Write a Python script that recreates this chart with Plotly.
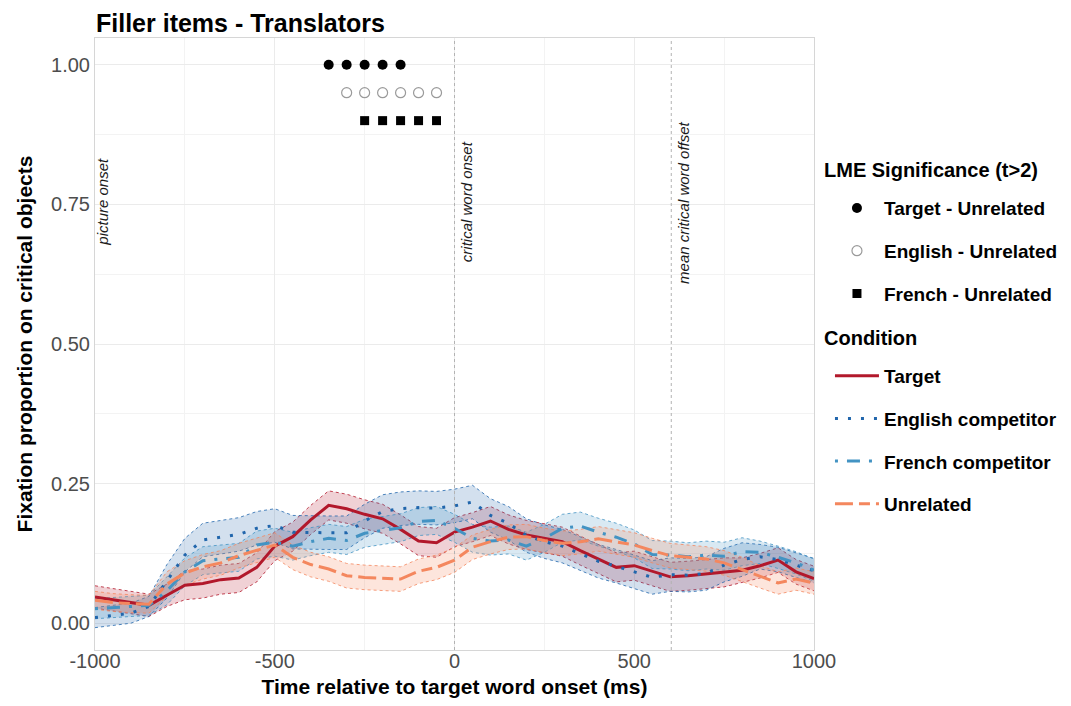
import plotly.graph_objects as go

# ---------------- data ----------------
time_ms = [-1000, -950, -900, -850, -800, -750, -700, -650, -600, -550, -500,
           -450, -400, -350, -300, -250, -200, -150, -100, -50, 0,
           50, 100, 150, 200, 250, 300, 350, 400, 450, 500,
           550, 600, 650, 700, 750, 800, 850, 900, 950, 1000]

target = [0.047, 0.042, 0.036, 0.032, 0.050, 0.068, 0.071, 0.078, 0.081, 0.100, 0.138,
          0.155, 0.185, 0.211, 0.205, 0.195, 0.187, 0.168, 0.147, 0.144, 0.163,
          0.172, 0.183, 0.168, 0.158, 0.152, 0.146, 0.130, 0.115, 0.100, 0.103,
          0.093, 0.083, 0.085, 0.088, 0.091, 0.095, 0.103, 0.113, 0.092, 0.080]

english = [0.010, 0.014, 0.018, 0.030, 0.075, 0.122, 0.149, 0.154, 0.159, 0.170, 0.175,
           0.163, 0.162, 0.162, 0.162, 0.183, 0.200, 0.205, 0.207, 0.206, 0.210,
           0.217, 0.193, 0.179, 0.157, 0.146, 0.138, 0.125, 0.111, 0.102, 0.092,
           0.082, 0.087, 0.086, 0.089, 0.104, 0.114, 0.119, 0.114, 0.104, 0.094]

french = [0.026, 0.028, 0.030, 0.032, 0.058, 0.092, 0.112, 0.115, 0.118, 0.140, 0.145,
          0.138, 0.146, 0.152, 0.148, 0.161, 0.166, 0.171, 0.182, 0.184, 0.170,
          0.152, 0.147, 0.149, 0.138, 0.152, 0.170, 0.174, 0.163, 0.154, 0.142,
          0.123, 0.122, 0.119, 0.122, 0.120, 0.128, 0.127, 0.118, 0.108, 0.095]

unrelated = [0.041, 0.037, 0.035, 0.034, 0.070, 0.090, 0.101, 0.108, 0.121, 0.131, 0.140,
             0.118, 0.105, 0.097, 0.085, 0.082, 0.080, 0.079, 0.093, 0.100, 0.113,
             0.136, 0.146, 0.154, 0.155, 0.148, 0.143, 0.146, 0.151, 0.145, 0.140,
             0.130, 0.121, 0.118, 0.115, 0.108, 0.096, 0.083, 0.072, 0.079, 0.072]

se_target = [0.020] * 5 + [0.026] * 31 + [0.022] * 5
se_english = [0.018] * 4 + [0.030] * 33 + [0.022] * 4
se_french = [0.018] * 4 + [0.025] * 33 + [0.020] * 4
se_unrelated = [0.016] * 4 + [0.022] * 33 + [0.020] * 4

sig_target_times = [-350, -300, -250, -200, -150]
sig_english_times = [-300, -250, -200, -150, -100, -50]
sig_french_times = [-250, -200, -150, -100, -50]
sig_levels = [1.00, 0.95, 0.90]

conditions = ["Target", "English competitor", "French competitor", "Unrelated"]
series = [target, english, french, unrelated]
ses = [se_target, se_english, se_french, se_unrelated]

events = [(-1000, "picture onset"), (0, "critical word onset"), (603, "mean critical word offset")]

x_ticks = [-1000, -500, 0, 500, 1000]
x_ticklabels = ["-1000", "-500", "0", "500", "1000"]
y_ticks = [0, 0.25, 0.5, 0.75, 1.0]

# ---------------- styles ----------------
colors = ["#B2182B", "#2166AC", "#4393C3", "#F4875E"]
fills = ["rgba(178,24,43,0.20)", "rgba(33,102,172,0.20)",
         "rgba(67,147,195,0.20)", "rgba(244,135,94,0.22)"]
dashes = ["solid", "3px,10px", "3px,9px,13px,9px", "18px,6px,11px,6px"]
event_shift = [-3, 1, 1]

# page adds an 8px body margin; keep the whole figure inside the 1071x706 window
W, H = 1055, 690

fig = go.Figure()

# ribbons
for name, y, se, c, f in zip(conditions, series, ses, colors, fills):
    upper = [a + b for a, b in zip(y, se)]
    lower = [a - b for a, b in zip(y, se)]
    fig.add_trace(go.Scatter(x=time_ms, y=upper, mode="lines",
                             line=dict(color=c, width=0.8, dash="dot"),
                             showlegend=False, hoverinfo="skip"))
    fig.add_trace(go.Scatter(x=time_ms, y=lower, mode="lines",
                             line=dict(color=c, width=0.8, dash="dot"),
                             fill="tonexty", fillcolor=f,
                             showlegend=False, hoverinfo="skip"))

# lines
for i, (name, y, c, d) in enumerate(zip(conditions, series, colors, dashes)):
    fig.add_trace(go.Scatter(x=time_ms, y=y, mode="lines", name=name,
                             line=dict(color=c, width=3, dash=d),
                             legend="legend2", legendgroup="c%d" % i))

# significance markers
sig_sets = [
    ("Target - Unrelated", sig_target_times, sig_levels[0],
     dict(symbol="circle", size=10, color="black")),
    ("English - Unrelated", sig_english_times, sig_levels[1],
     dict(symbol="circle-open", size=10, color="#9a9a9a", line=dict(width=1.2))),
    ("French - Unrelated", sig_french_times, sig_levels[2],
     dict(symbol="square", size=9, color="black")),
]
for i, (name, xs, lvl, mk) in enumerate(sig_sets):
    fig.add_trace(go.Scatter(x=xs, y=[lvl] * len(xs), mode="markers", name=name,
                             marker=mk, legend="legend", legendgroup="s%d" % i))

# event lines and labels
for (t, label), sh in zip(events, event_shift):
    if t > -1000:
        fig.add_shape(type="line", x0=t, x1=t, y0=0, y1=1, xref="x", yref="paper",
                      line=dict(color="#b3b3b3", width=1, dash="dot"))
    fig.add_annotation(x=t, y=0.754, xref="x", yref="y", text=label, showarrow=False,
                       textangle=-90, xanchor="left", yanchor="middle", xshift=sh,
                       font=dict(size=15, color="#1a1a1a", style="italic"))

# legend titles
fig.add_annotation(x=1.011, y=0.784, xref="paper", yref="paper", xanchor="left",
                   yanchor="middle", showarrow=False, text="LME Significance (t>2)",
                   font=dict(size=20, weight="bold", color="black"))
fig.add_annotation(x=1.011, y=0.510, xref="paper", yref="paper", xanchor="left",
                   yanchor="middle", showarrow=False, text="Condition",
                   font=dict(size=20, weight="bold", color="black"))

font_family = "Liberation Sans, Arial, Helvetica, sans-serif"

fig.update_layout(
    width=W, height=H,
    margin=dict(l=87, r=249, t=30, b=48, autoexpand=False),
    paper_bgcolor="white", plot_bgcolor="white",
    font=dict(family=font_family, color="black"),
    title=dict(text="Filler items - Translators", x=88 / W, xanchor="left",
               xref="container", y=1 - 15 / H, yref="container", yanchor="middle",
               font=dict(size=25, weight="bold", color="black")),
    legend=dict(x=1.0222, y=0.753, xanchor="left", yanchor="top",
                font=dict(size=19, weight="bold", color="black"), itemwidth=44,
                traceorder="grouped", tracegroupgap=15, bgcolor="rgba(0,0,0,0)"),
    legend2=dict(x=1.0222, y=0.479, xanchor="left", yanchor="top",
                 font=dict(size=19, weight="bold", color="black"), itemwidth=44,
                 traceorder="grouped", tracegroupgap=15, bgcolor="rgba(0,0,0,0)"),
)

fig.update_xaxes(range=[-1000, 1000], tickvals=x_ticks, ticktext=x_ticklabels,
                 showgrid=True, gridcolor="#ebebeb", gridwidth=1,
                 minor=dict(tickvals=[-750, -250, 250, 750], showgrid=True,
                            gridcolor="#f3f3f3", gridwidth=1),
                 zeroline=False, showline=True, mirror=True, linecolor="#d6d6d6",
                 ticks="", ticklabelstandoff=-7, tickfont=dict(size=20, color="#4d4d4d"),
                 title=dict(text="Time relative to target word onset (ms)",
                            font=dict(size=21, weight="bold", color="black"), standoff=10))
fig.update_yaxes(range=[-0.048, 1.048], tickvals=y_ticks,
                 tickformat=".2f",
                 showgrid=True, gridcolor="#ebebeb", gridwidth=1,
                 minor=dict(tickvals=[0.125, 0.375, 0.625, 0.875], showgrid=True,
                            gridcolor="#f3f3f3", gridwidth=1),
                 zeroline=False, showline=True, mirror=True, linecolor="#d6d6d6",
                 ticks="", tickfont=dict(size=20, color="#4d4d4d"),
                 title=dict(text="Fixation proportion on critical objects",
                            font=dict(size=21, weight="bold", color="black"), standoff=12))

fig.write_html("out.html")
